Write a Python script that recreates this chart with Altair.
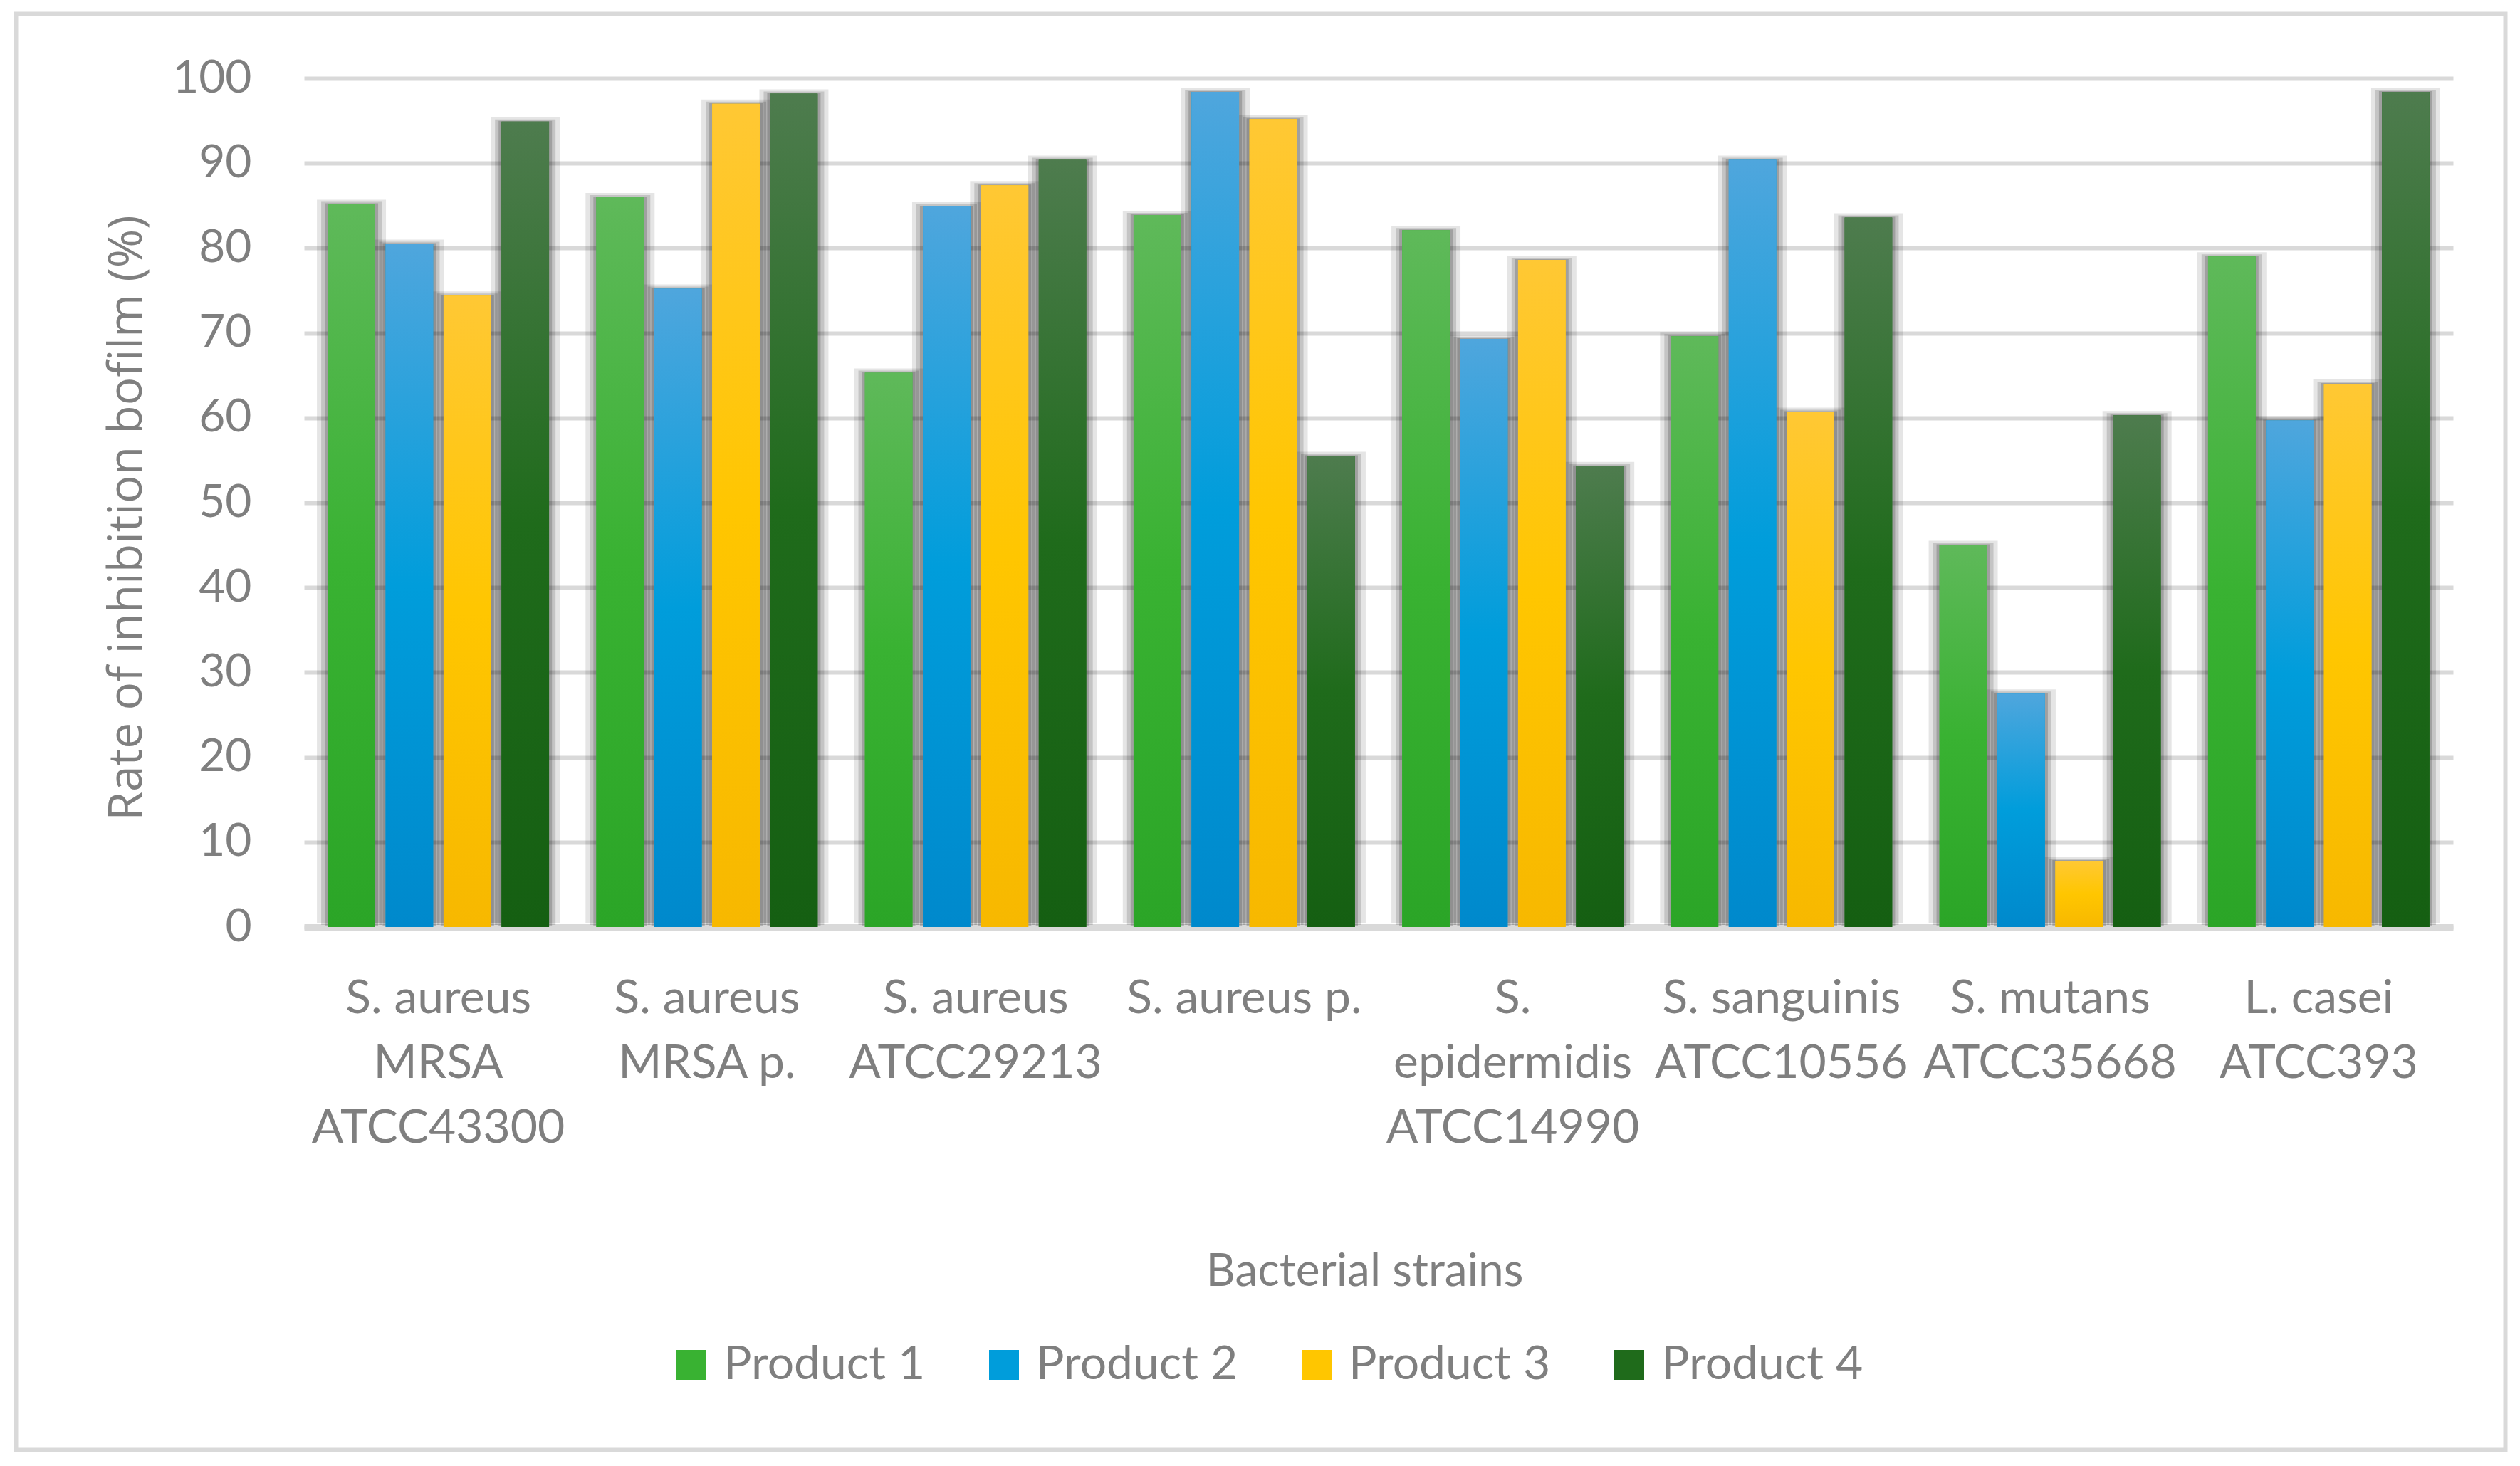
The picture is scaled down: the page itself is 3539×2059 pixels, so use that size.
import json
import altair as alt
import pandas as pd

strains = [
    "S. aureus MRSA ATCC43300",
    "S. aureus MRSA p.",
    "S. aureus ATCC29213",
    "S. aureus p.",
    "S. epidermidis ATCC14990",
    "S. sanguinis ATCC10556",
    "S. mutans ATCC35668",
    "L. casei ATCC393",
]
strain_label_lines = [
    ["S. aureus", "MRSA", "ATCC43300"],
    ["S. aureus", "MRSA p."],
    ["S. aureus", "ATCC29213"],
    ["S. aureus p."],
    ["S.", "epidermidis", "ATCC14990"],
    ["S. sanguinis", "ATCC10556"],
    ["S. mutans", "ATCC35668"],
    ["L. casei", "ATCC393"],
]
products = ["Product 1", "Product 2", "Product 3", "Product 4"]
product1 = [85.2, 86.0, 65.3, 83.9, 82.1, 69.6, 45.0, 79.0]
product2 = [80.5, 75.2, 84.9, 98.4, 69.3, 90.4, 27.5, 59.7]
product3 = [74.4, 97.0, 87.4, 95.2, 78.6, 60.7, 7.8, 64.0]
product4 = [94.9, 98.2, 90.4, 55.5, 54.3, 83.6, 60.3, 98.4]

top_colors = ["#5fb95a", "#4fa6dd", "#ffc834", "#4e7c4e"]
mid_colors = ["#39b232", "#009ddb", "#ffc600", "#1f6b1b"]
bottom_colors = ["#2ba527", "#0089cc", "#f7b800", "#155f12"]

series = [product1, product2, product3, product4]
rows = []
for p, vals in zip(products, series):
    for s, v in zip(strains, vals):
        rows.append({"strain": s, "product": p, "value": v})
df = pd.DataFrame(rows)

TEXT = "#7f7f7f"
GRID = "#d9d9d9"
W, H = 3018, 1192
BAR_W = 67

label_expr = f"{json.dumps(strain_label_lines)}[indexof({json.dumps(strains)}, datum.value)]"

x_enc = alt.X(
    "strain:N",
    sort=strains,
    scale=alt.Scale(paddingInner=0.176, paddingOuter=0.088),
    axis=alt.Axis(
        title="Bacterial strains",
        titleFontSize=64,
        titleFontWeight="normal",
        titleColor=TEXT,
        titleX=1489,
        titleY=503,
        titleAlign="center",
        titleBaseline="alphabetic",
        labelExpr=label_expr,
        labelAngle=0,
        labelFontSize=66,
        labelColor=TEXT,
        labelLineHeight=91,
        labelPadding=68,
        labelBaseline="top",
        labelLimit=0,
        labelOverlap=False,
        labelBound=False,
        ticks=False,
        domain=True,
        domainColor=GRID,
        domainWidth=9,
        grid=False,
    ),
)
xoff_enc = alt.XOffset(
    "product:N", scale=alt.Scale(domain=products, paddingInner=0.18, paddingOuter=0)
)
y_enc = alt.Y(
    "value:Q",
    scale=alt.Scale(domain=[0, 100], nice=False),
    axis=alt.Axis(
        title="Rate of inhibition bofilm (%)",
        titleFont="Open Sans",
        titleFontSize=66,
        titleFontWeight="normal",
        titleColor=TEXT,
        titleAngle=270,
        titleX=-229,
        titleY=617,
        titleAlign="center",
        titleBaseline="alphabetic",
        values=list(range(0, 101, 10)),
        labelFontSize=64,
        labelColor=TEXT,
        labelPadding=74,
        ticks=False,
        domain=False,
        grid=True,
        gridColor=GRID,
        gridWidth=6,
    ),
)

base = alt.Chart(df).encode(x=x_enc, xOffset=xoff_enc, y=y_enc)

frame = (
    alt.Chart(pd.DataFrame({"k": [0]}))
    .mark_rect(filled=False, stroke=GRID, strokeWidth=6)
    .encode(
        x=alt.value(-404.5),
        x2=alt.value(W + 73.5),
        y=alt.value(-90.5),
        y2=alt.value(H + 734.5),
    )
)

# soft drop shadow built from a few translucent, slightly wider bars
shadow_specs = [(30, 0.10, 6), (18, 0.14, 3), (8, 0.18, 1)]
shadows = [
    base.mark_bar(color="#000000", opacity=o, width=BAR_W + extra, yOffset=-d)
    for extra, o, d in shadow_specs
]

flat = base.mark_bar().encode(
    color=alt.Color(
        "product:N",
        scale=alt.Scale(domain=products, range=mid_colors),
        legend=alt.Legend(
            title=None,
            orient="none",
            legendX=511,
            legendY=1774,
            direction="horizontal",
            columns=4,
            symbolType="square",
            symbolSize=1764,
            symbolStrokeWidth=0,
            labelFontSize=66,
            labelColor=TEXT,
            labelOffset=12,
            columnPadding=77,
            labelLimit=0,
        ),
    )
)

grads = []
for p, t, m, b in zip(products, top_colors, mid_colors, bottom_colors):
    grad = {
        "gradient": "linear",
        "x1": 0,
        "x2": 0,
        "y1": 0,
        "y2": 1,
        "stops": [
            {"offset": 0, "color": t},
            {"offset": 0.5, "color": m},
            {"offset": 1, "color": b},
        ],
    }
    grads.append(base.transform_filter(alt.datum.product == p).mark_bar(color=grad))

chart = (
    alt.layer(frame, *shadows, flat, *grads)
    .properties(
        width=W,
        height=H,
        autosize=alt.AutoSizeParams(type="none"),
        padding={"left": 419, "top": 102, "right": 86, "bottom": 749},
        background="white",
    )
    .configure(font="Lato")
    .configure_view(stroke=None)
)

chart.save("out.html", embed_options={"renderer": "svg", "actions": False})
